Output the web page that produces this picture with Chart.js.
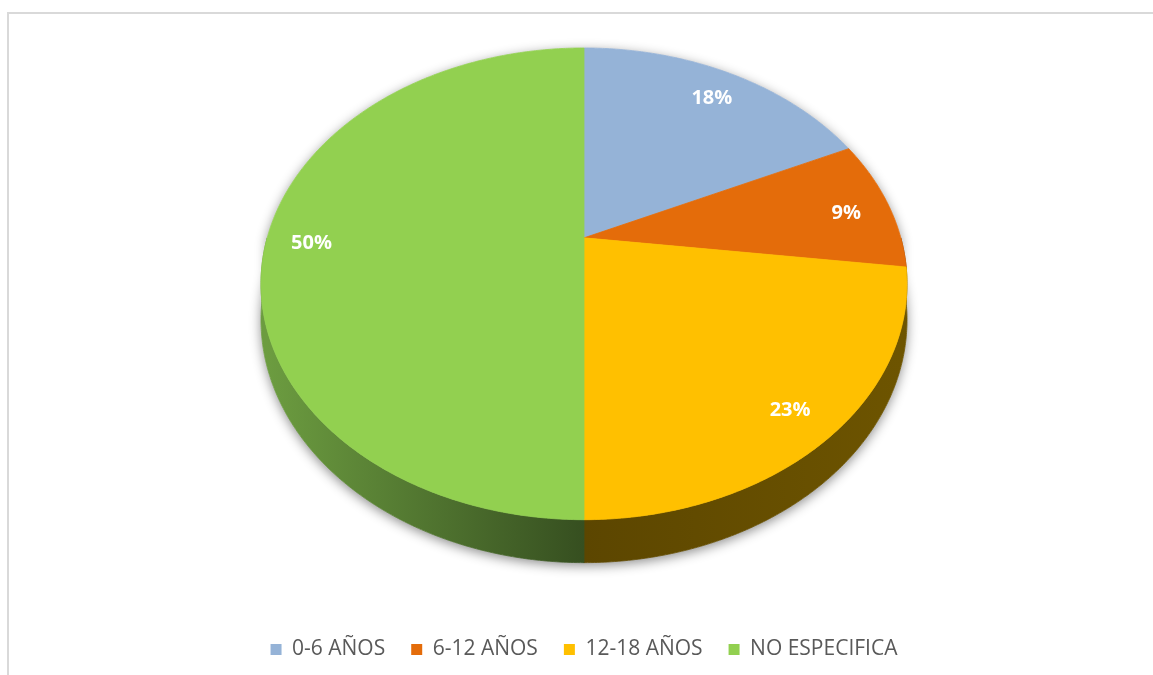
<!DOCTYPE html>
<html>
<head>
<meta charset="utf-8">
<script src="https://cdn.jsdelivr.net/npm/chart.js@4"></script>
<style>
  html, body { margin: 0; padding: 0; background: #fff; overflow: hidden; }
  #frame {
    position: absolute; left: 7px; top: 12px; width: 1200px; height: 700px;
    border-left: 2px solid #d9d9d9; border-top: 2px solid #d9d9d9;
  }
  #wrap { position: absolute; left: 0; top: 0; width: 1153px; height: 675px; }
</style>
</head>
<body>
<div id="frame"></div>
<div id="wrap"><canvas id="pieChart" width="1153" height="675"></canvas></div>
<script>
const categories = ["0-6 AÑOS", "6-12 AÑOS", "12-18 AÑOS", "NO ESPECIFICA"];
const percentages = [18, 9, 23, 50];

const sliceColors = ["#95b3d7", "#e46c0a", "#ffc000", "#92d050"];
const sideLight = ["#4f6a8c", "#8a4508", "#6d5400", "#6c9c40"];
const sideDark = ["#3d5574", "#7a3a05", "#5c4600", "#364f20"];

// --------- 3D look (ratios of the pie radius) ---------
const spread = 0.99;   // horizontal radius
const tilt = 0.709;    // vertical squash
const persp = 0.195;   // perspective strength
const depth = 0.108;   // thickness
const labelPos = 0.86;

const pie3d = {
  id: "pie3d",
  beforeDatasetsDraw(chart) {
    const ctx = chart.ctx;
    const meta = chart.getDatasetMeta(0);
    const R = meta.data[0].outerRadius;
    const cx = meta.data[0].x;
    const kx = R * spread;
    const ky = R * tilt;
    const th = R * depth;
    const cy = chart.chartArea.top + ky / (1 + persp);
    const step = Math.PI / 360;

    const pt = (a, f, z) => {
      const u = Math.cos(a) * f;
      const v = -Math.sin(a) * f;
      const w = 1 + persp * v;
      return [cx + kx * u / w, cy - ky * v / w + z * th / w];
    };
    const arcPath = (from, to, z, first) => {
      const n = Math.max(2, Math.ceil(Math.abs(to - from) / step));
      for (let k = 0; k <= n; k++) {
        const p = pt(from + (to - from) * k / n, 1, z);
        if (first && k === 0) ctx.moveTo(p[0], p[1]);
        else ctx.lineTo(p[0], p[1]);
      }
    };

    // shadow under the whole pie
    ctx.save();
    ctx.beginPath();
    arcPath(Math.PI, 2 * Math.PI, 0, true);
    arcPath(0, Math.PI, 1, false);
    ctx.closePath();
    ctx.shadowColor = "rgba(0,0,0,0.45)";
    ctx.shadowBlur = 12;
    ctx.shadowOffsetY = 3;
    ctx.fillStyle = "#fff";
    ctx.fill();
    ctx.restore();

    // front walls
    meta.data.forEach((arc, i) => {
      const s = Math.max(arc.startAngle, 0);
      const e = Math.min(arc.endAngle, Math.PI);
      if (e <= s) return;
      const grad = ctx.createLinearGradient(cx - kx, 0, cx + kx, 0);
      grad.addColorStop(0, sideLight[i]);
      grad.addColorStop(0.5, sideDark[i]);
      grad.addColorStop(1, sideLight[i]);
      ctx.beginPath();
      arcPath(s, e, 0, true);
      arcPath(e, s, 1, false);
      ctx.closePath();
      ctx.fillStyle = grad;
      ctx.fill();
      ctx.strokeStyle = grad;
      ctx.lineWidth = 0.8;
      ctx.stroke();
    });

    // top faces
    meta.data.forEach((arc, i) => {
      const c = pt(0, 0, 0);
      ctx.beginPath();
      ctx.moveTo(c[0], c[1]);
      arcPath(arc.startAngle, arc.endAngle, 0, false);
      ctx.closePath();
      ctx.fillStyle = sliceColors[i];
      ctx.fill();
      ctx.strokeStyle = sliceColors[i];
      ctx.lineWidth = 0.8;
      ctx.stroke();
    });

    // percentage labels
    ctx.save();
    ctx.font = "bold 20px 'Open Sans'";
    ctx.fillStyle = "#ffffff";
    ctx.textAlign = "center";
    ctx.textBaseline = "middle";
    meta.data.forEach((arc, i) => {
      const mid = (arc.startAngle + arc.endAngle) / 2;
      const p = pt(mid, labelPos, 0);
      ctx.fillText(percentages[i] + "%", p[0], p[1] + 5);
    });
    ctx.restore();

    return false;
  }
};

// --------- Init ---------
const ctx = document.getElementById("pieChart").getContext("2d");
new Chart(ctx, {
  type: "pie",
  data: {
    labels: categories,
    datasets: [{
      data: percentages,
      backgroundColor: sliceColors,
      borderWidth: 0,
      radius: 320
    }]
  },
  plugins: [pie3d],
  options: {
    responsive: false,
    animation: false,
    layout: { padding: { top: 48, bottom: 5, left: 15 } },
    plugins: {
      legend: {
        position: "bottom",
        labels: {
          boxWidth: 11,
          boxHeight: 11,
          padding: 26,
          color: "#595959",
          font: { family: "'Open Sans'", size: 21 }
        }
      },
      tooltip: { enabled: false }
    }
  }
});
</script>
</body>
</html>
